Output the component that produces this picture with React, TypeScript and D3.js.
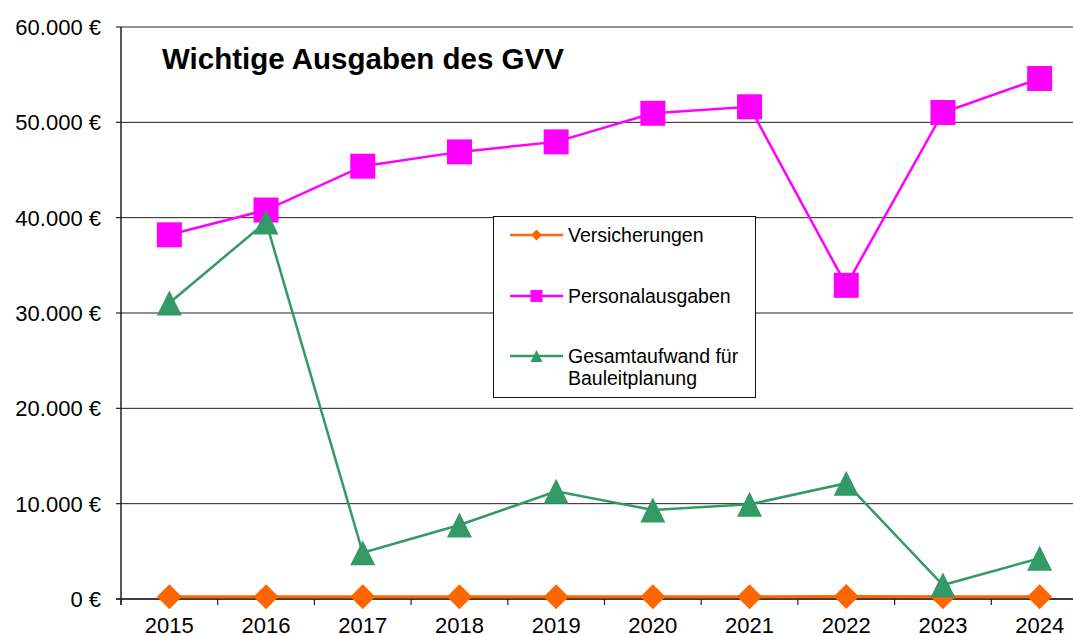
import React from "react";
import * as d3 from "d3";

const years = ["2015", "2016", "2017", "2018", "2019", "2020", "2021", "2022", "2023", "2024"];
const versicherungen = [240, 240, 240, 240, 240, 240, 240, 260, 240, 240];
const personalausgaben = [38200, 40800, 45400, 46900, 47950, 50950, 51630, 32900, 51030, 54600];
const bauleitplanung = [31050, 39550, 4850, 7760, 11300, 9340, 9930, 12150, 1470, 4270];
const yTicks = [0, 10000, 20000, 30000, 40000, 50000, 60000];
const seriesNames = ["Versicherungen", "Personalausgaben", "Gesamtaufwand für|Bauleitplanung"];
const seriesColors = ["#FF6600", "#FF00FF", "#339966"];
const title = "Wichtige Ausgaben des GVV";

const W = 1073;
const H = 635;
const FONT = "Arial, 'Liberation Sans', sans-serif";

function fmt(v: number) {
  const s = d3.format(",")(v).replace(/,/g, ".");
  return `${s} €`;
}

function Marker({ type, cx, cy, size, color }: { type: number; cx: number; cy: number; size: number; color: string }) {
  if (type === 0) {
    const r = size / 2;
    return <polygon points={`${cx},${cy - r} ${cx + r},${cy} ${cx},${cy + r} ${cx - r},${cy}`} fill={color} />;
  }
  if (type === 1) {
    return <rect x={cx - size / 2} y={cy - size / 2} width={size} height={size} fill={color} />;
  }
  const h = size;
  return (
    <polygon
      points={`${cx},${cy - h / 2} ${cx + size / 2},${cy + h / 2} ${cx - size / 2},${cy + h / 2}`}
      fill={color}
    />
  );
}

export default function App() {
  const x = d3.scaleBand<string>().domain(years).range([121, 1088]).padding(0);
  const y = d3.scaleLinear().domain([0, 60000]).range([599, 27]);
  const cx = (yr: string) => (x(yr) as number) + x.bandwidth() / 2;
  const data = [versicherungen, personalausgaben, bauleitplanung];
  const widths = [3, 2.5, 2.5];
  const line = d3
    .line<number>()
    .x((_, i) => cx(years[i]))
    .y((d) => y(d));

  return (
    <svg
      width={W}
      height={H}
      style={{ position: "absolute", left: 0, top: 0, background: "#fff" }}
      fontFamily={FONT}
    >
      <rect x={0} y={0} width={W} height={H} fill="#fff" />
      {yTicks.map((t) => (
        <line key={t} x1={121} x2={W} y1={y(t)} y2={y(t)} stroke="#222" strokeWidth={1} />
      ))}
      {yTicks.map((t) => (
        <g key={"yt" + t}>
          <line x1={116} x2={121} y1={y(t)} y2={y(t)} stroke="#222" strokeWidth={1.2} />
          <text x={101} y={y(t)} dy="0.36em" textAnchor="end" fontSize={22} fill="#000">
            {fmt(t)}
          </text>
        </g>
      ))}
      {years.map((yr) => (
        <line
          key={"xt" + yr}
          x1={x(yr) as number}
          x2={x(yr) as number}
          y1={599}
          y2={605}
          stroke="#222"
          strokeWidth={1.2}
        />
      ))}
      {years.map((yr) => (
        <text key={"xl" + yr} x={cx(yr)} y={633} textAnchor="middle" fontSize={22} fill="#000">
          {yr}
        </text>
      ))}
      <line x1={121} x2={121} y1={27} y2={605} stroke="#222" strokeWidth={1.5} />
      <line x1={116} x2={W} y1={599} y2={599} stroke="#222" strokeWidth={1.5} />
      {data.map((vals, si) => (
        <g key={"s" + si}>
          <path d={line(vals) as string} fill="none" stroke={seriesColors[si]} strokeWidth={widths[si]} />
          {vals.map((v, i) => (
            <Marker key={i} type={si} cx={cx(years[i])} cy={y(v)} size={25} color={seriesColors[si]} />
          ))}
        </g>
      ))}
      <text x={162} y={69} fontSize={29.5} fontWeight="bold" fill="#000">
        {title}
      </text>
      <g>
        <rect x={493.5} y={216.5} width={262} height={181} fill="#fff" stroke="#111" strokeWidth={1} />
        {seriesNames.map((name, i) => {
          const ly = [235, 296, 356][i];
          const parts = name.split("|");
          return (
            <g key={"lg" + i}>
              <line x1={510} x2={563} y1={ly} y2={ly} stroke={seriesColors[i]} strokeWidth={2.5} />
              <Marker type={i} cx={536.5} cy={ly} size={i === 0 ? 11 : 12} color={seriesColors[i]} />
              {parts.map((p, j) => (
                <text key={j} x={568} y={ly + 7 + j * 22} fontSize={19.5} fill="#000">
                  {p}
                </text>
              ))}
            </g>
          );
        })}
      </g>
    </svg>
  );
}
